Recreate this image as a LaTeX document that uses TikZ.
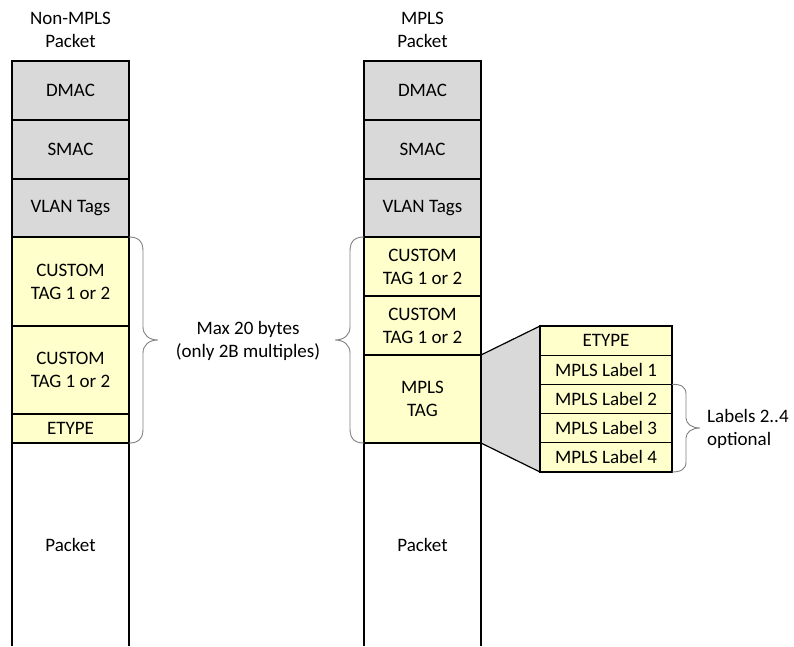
\documentclass[tikz,border=0pt]{standalone}
\usepackage{fontspec}
\setmainfont{Carlito}
\usetikzlibrary{backgrounds}
\definecolor{hdrgray}{HTML}{D9D9D9}
\definecolor{tagyellow}{HTML}{FFFFCC}
\definecolor{bracegray}{HTML}{808080}
\tikzset{
  txt/.style={font=\fontsize{19}{23}\selectfont, align=center, inner sep=0pt},
  field/.style={txt, draw=black, line width=1.2pt, outer sep=0pt,
    minimum width=117pt},
  hdrfield/.style={field, fill=hdrgray},
  tagfield/.style={field, fill=tagyellow},
  lblfield/.style={tagfield, minimum width=132pt, minimum height=29.2pt},
  bodyfield/.style={txt, minimum width=117pt, outer sep=0pt},
  bracepath/.style={draw=bracegray, line width=0.9pt},
  edge/.style={draw=black, line width=1.2pt}
}
\begin{document}
\begin{tikzpicture}[x=1pt,y=-1pt]
\useasboundingbox (0,0) rectangle (794,646);

% column titles
\node[txt] (t1) at (70.5,30) {Non-MPLS\\Packet};
\node[txt] (t2) at (422.5,30) {MPLS\\Packet};

% non-MPLS packet
\node[hdrfield, minimum height=59pt] (dm1) at (70.5,90.5) {DMAC};
\node[hdrfield, minimum height=59pt] (sm1) at (70.5,149.5) {SMAC};
\node[hdrfield, minimum height=58pt] (vl1) at (70.5,208) {VLAN Tags};
\node[tagfield, minimum height=89pt] (ca1) at (70.5,281.5) {CUSTOM\\TAG 1 or 2};
\node[tagfield, minimum height=88pt] (cb1) at (70.5,370) {CUSTOM\\TAG 1 or 2};
\node[tagfield, minimum height=29pt] (et1) at (70.5,428.5) {ETYPE};
\node[bodyfield, minimum height=203pt] (pk1) at (70.5,544.5) {Packet};
\draw[edge] (pk1.north west) -- (pk1.south west)
            (pk1.north east) -- (pk1.south east);

% MPLS packet
\node[hdrfield, minimum height=59pt] (dm2) at (422.5,90.5) {DMAC};
\node[hdrfield, minimum height=59pt] (sm2) at (422.5,149.5) {SMAC};
\node[hdrfield, minimum height=58pt] (vl2) at (422.5,208) {VLAN Tags};
\node[tagfield, minimum height=59pt] (ca2) at (422.5,266.5) {CUSTOM\\TAG 1 or 2};
\node[tagfield, minimum height=59pt] (cb2) at (422.5,325.5) {CUSTOM\\TAG 1 or 2};
\node[tagfield, minimum height=88pt] (mt) at (422.5,399) {MPLS\\TAG};
\node[bodyfield, minimum height=203pt] (pk2) at (422.5,544.5) {Packet};
\draw[edge] (pk2.north west) -- (pk2.south west)
            (pk2.north east) -- (pk2.south east);

% MPLS tag breakdown
\node[lblfield] (et2) at (606,340.6) {ETYPE};
\node[lblfield] (l1) at (606,369.8) {MPLS Label 1};
\node[lblfield] (l2) at (606,399) {MPLS Label 2};
\node[lblfield] (l3) at (606,428.2) {MPLS Label 3};
\node[lblfield] (l4) at (606,457.4) {MPLS Label 4};

\begin{scope}[on background layer]
  \fill[hdrgray] (mt.north east) -- (et2.north west) -- (l4.south west)
    -- (mt.south east) -- cycle;
\end{scope}
\draw[edge] (mt.north east) -- (et2.north west);
\draw[edge] (mt.south east) -- (l4.south west);

% braces
\coordinate (bl) at (158,340);
\draw[bracepath] (ca1.north east) .. controls (138,237) and (143,241) .. (143,251)
  -- (143,327) .. controls (143,335) and (149,340) .. (bl)
  .. controls (149,340) and (143,345) .. (143,353)
  -- (143,429) .. controls (143,439) and (138,443) .. (et1.south east);
\coordinate (br) at (335,340);
\draw[bracepath] (ca2.north west) .. controls (355,237) and (350,241) .. (350,251)
  -- (350,327) .. controls (350,335) and (344,340) .. (br)
  .. controls (344,340) and (350,345) .. (350,353)
  -- (350,429) .. controls (350,439) and (355,443) .. (mt.south west);
\node[txt] (mx) at (248,341) {Max 20 bytes\\(only 2B multiples)};

\coordinate (bo) at (700,428);
\draw[bracepath] (l2.north east) .. controls (681,384) and (686,387) .. (686,394)
  -- (686,418) .. controls (686,424) and (692,428) .. (bo)
  .. controls (692,428) and (686,432) .. (686,438)
  -- (686,462) .. controls (686,469) and (681,472) .. (l4.south east);
\node[txt, anchor=west, align=left] (opt) at (707,429) {Labels 2..4\\optional};
\end{tikzpicture}
\end{document}
